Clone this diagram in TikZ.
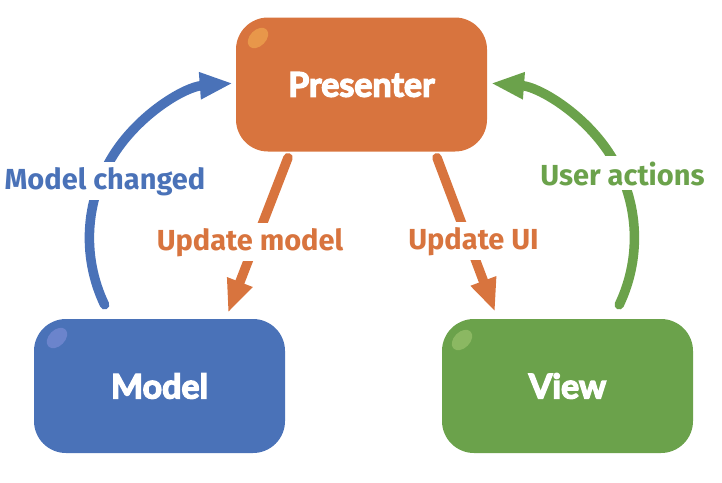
\documentclass[tikz,border=0pt]{standalone}
\usepackage{fontspec}
\setmainfont{Fira Sans}
\newfontfamily\boxfont[FakeBold=4]{Lato Black}
\usetikzlibrary{arrows.meta}
\definecolor{porange}{HTML}{D8743E}
\definecolor{porangehl}{HTML}{E8974A}
\definecolor{mblue}{HTML}{4A72B8}
\definecolor{mbluehl}{HTML}{6B84CC}
\definecolor{vgreen}{HTML}{6BA24B}
\definecolor{vgreenhl}{HTML}{8BB862}
\begin{document}
\begin{tikzpicture}[x=1pt,y=1pt,
  box/.style={rounded corners=32pt, minimum width=251pt, minimum height=134pt,
    inner sep=0pt, text=white, font=\boxfont\bfseries\fontsize{34}{40}\selectfont},
  conn/.style={line width=9.5pt, line cap=round,
    -{Triangle[length=33pt,width=25pt]}},
  lbl/.style={fill=white, inner sep=5pt, anchor=base,
    font=\bfseries\fontsize{29}{34}\selectfont}]
\useasboundingbox (0,0) rectangle (722,-482);
% boxes
\node[box, fill=porange] (presenter) at (361.5,-84.5) {Presenter};
\node[box, fill=mblue] (model) at (159.5,-386) {Model};
\node[box, fill=vgreen] (view) at (567.5,-386) {View};
% highlights
\fill[porangehl, rotate around={45:(258,-38)}] (258,-38) ellipse [x radius=12, y radius=8];
\fill[mbluehl, rotate around={45:(57,-338)}] (57,-338) ellipse [x radius=12, y radius=8];
\fill[vgreenhl, rotate around={45:(462,-340)}] (462,-340) ellipse [x radius=12, y radius=8];
% end points
\coordinate (mcS) at ([shift={(70.8,14)}]model.north west);
\coordinate (uaS) at ([shift={(-74,14)}]view.north east);
\coordinate (umS) at ([shift={(-73.5,-6)}]presenter.south);
\coordinate (umE) at ([shift={(68.5,6)}]model.north);
\coordinate (uuS) at ([shift={(75.5,-6)}]presenter.south);
\coordinate (uuE) at ([shift={(-72.5,7)}]view.north);
% connectors
\draw[conn, mblue] (mcS) arc[start angle=205.6, end angle=94.3, radius=155];
\draw[conn, vgreen] (uaS) arc[start angle=-25.6, end angle=85.7, radius=155];
\draw[conn, porange] (umS) -- (umE);
\draw[conn, porange] (uuS) -- (uuE);
% labels
\node[lbl, text=mblue] (lmc) at (105,-189) {Model changed};
\node[lbl, text=porange] (lum) at (250,-250) {Update model};
\node[lbl, text=porange] (luu) at (473.5,-249) {Update UI};
\node[lbl, text=vgreen] (lua) at (622.5,-185) {User actions};
\end{tikzpicture}
\end{document}
